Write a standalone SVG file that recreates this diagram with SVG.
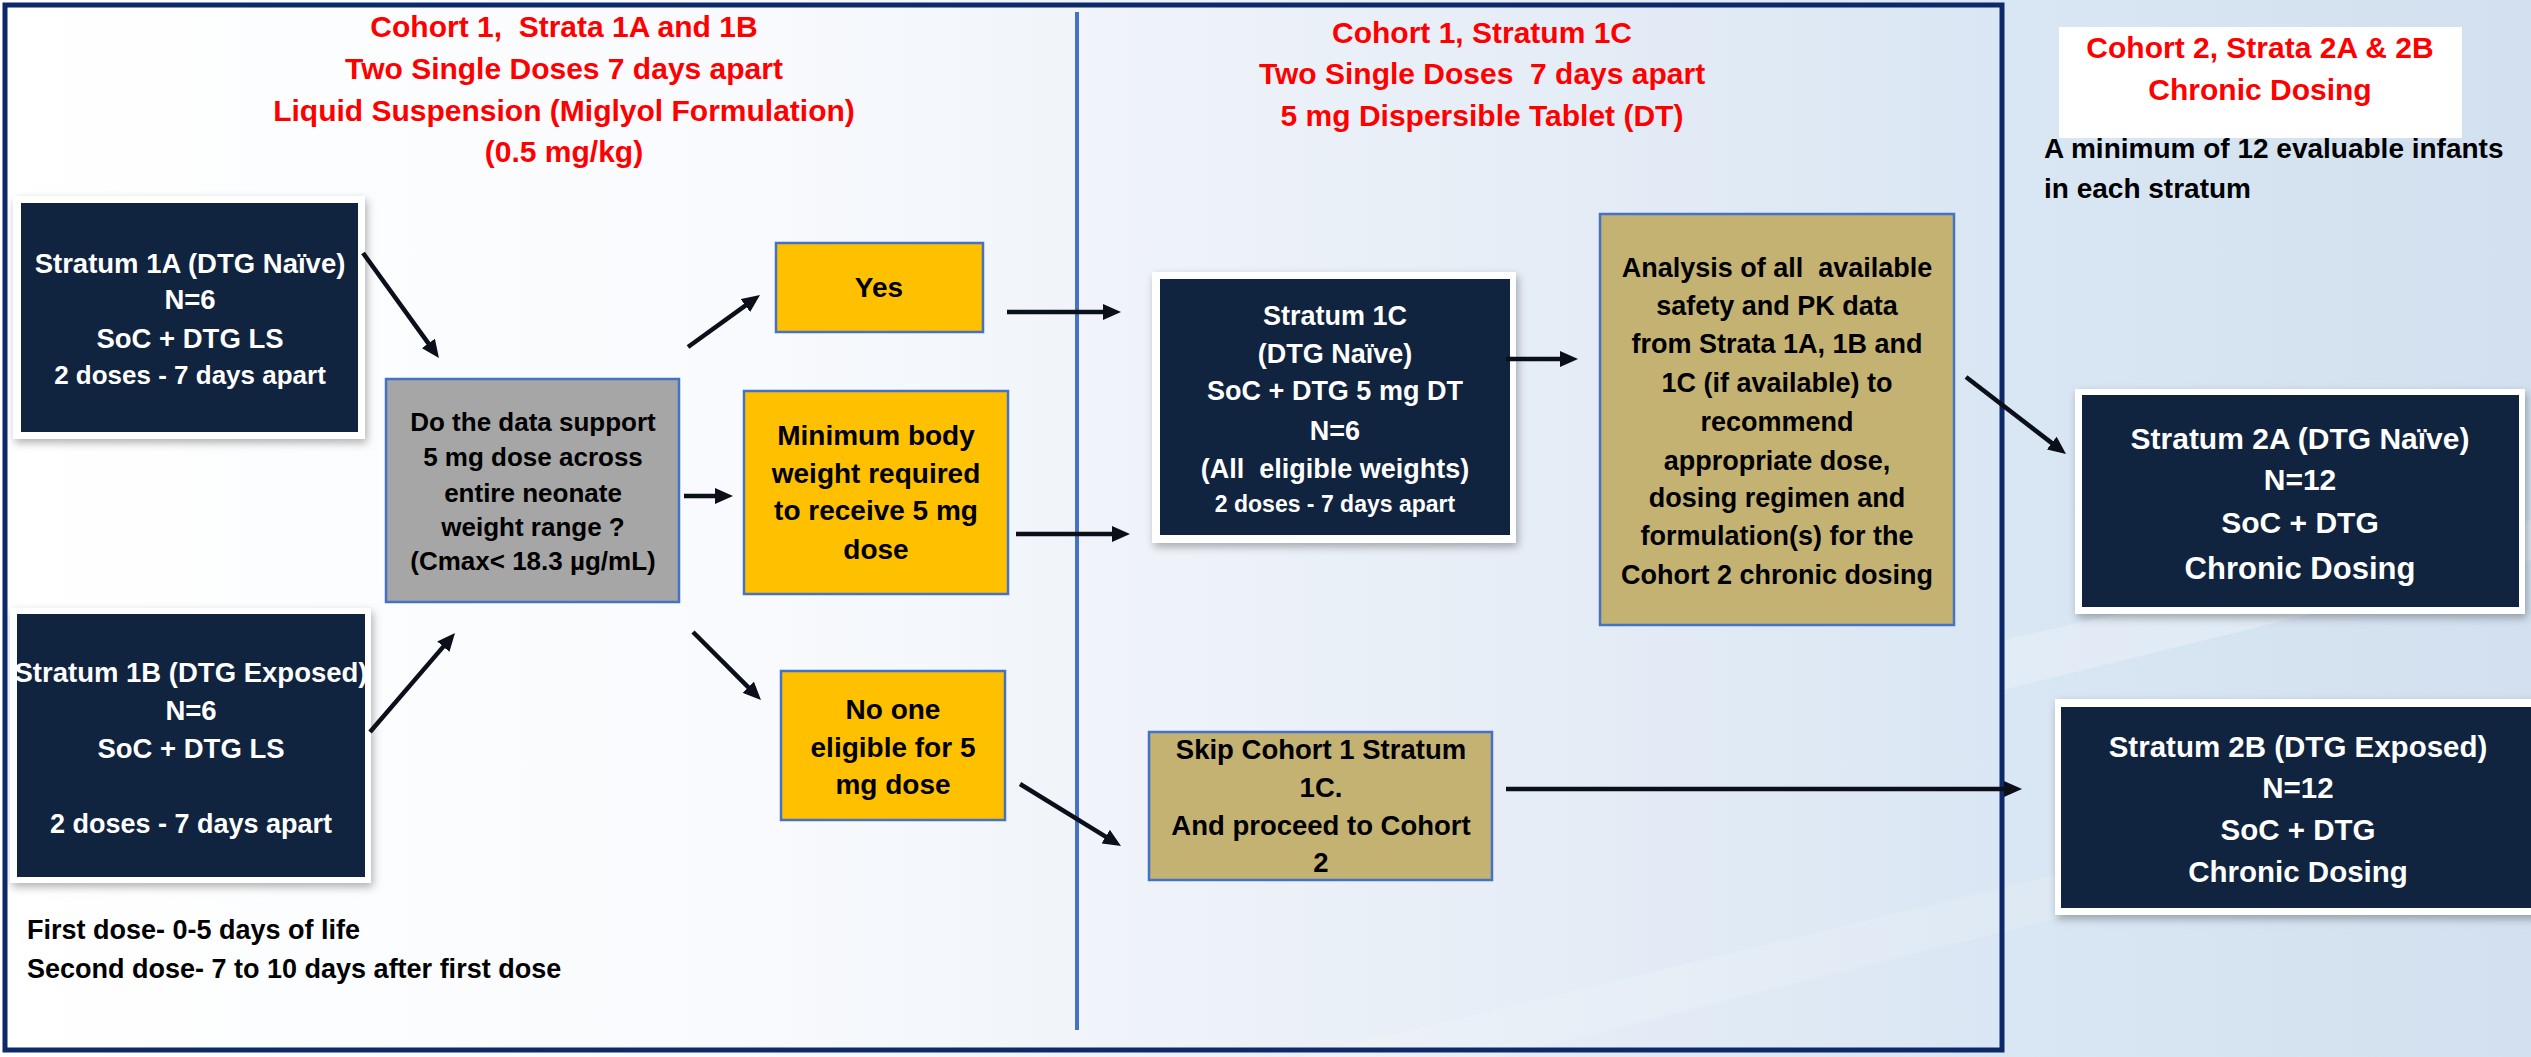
<svg xmlns="http://www.w3.org/2000/svg" width="2531" height="1057" viewBox="0 0 2531 1057">
<defs>
<linearGradient id="bg" x1="0" y1="0" x2="1" y2="0">
<stop offset="0" stop-color="#ffffff"/>
<stop offset="0.3" stop-color="#f8fafd"/>
<stop offset="0.55" stop-color="#e9eff7"/>
<stop offset="0.8" stop-color="#d9e6f3"/>
<stop offset="1" stop-color="#d2e0ef"/>
</linearGradient>
<filter id="sh" x="-10%" y="-10%" width="120%" height="130%">
<feDropShadow dx="2" dy="4" stdDeviation="4" flood-color="#000" flood-opacity="0.3"/>
</filter>
<marker id="ah" viewBox="0 0 18 16" refX="8" refY="8" markerWidth="18" markerHeight="16" markerUnits="userSpaceOnUse" orient="auto">
<path d="M0,0 L18,8 L0,16 z" fill="#0a0f1a"/>
</marker>
<style>
.t{font-family:"Liberation Sans",Arial,sans-serif;font-weight:700;white-space:pre}
.red{fill:#ff0000;font-size:30px;text-anchor:middle}
.w{fill:#ffffff;text-anchor:middle}
.k{fill:#000000;text-anchor:middle}
.frame{fill:#ffffff;filter:url(#sh)}
.dark{fill:#10233f}
.gold{fill:#ffc000;stroke:#4472c4;stroke-width:2.5}
.tan{fill:#c4b273;stroke:#4472c4;stroke-width:2.5}
.gray{fill:#a6a6a6;stroke:#4472c4;stroke-width:2.5}
.arr{stroke:#0a0f1a;stroke-width:4.5;fill:none;marker-end:url(#ah)}
</style>
</defs>
<rect x="0" y="0" width="2531" height="1057" fill="url(#bg)"/>
<path d="M2003,640 L2531,520 L2531,560 L2003,690 z" fill="#ffffff" opacity="0.25"/>
<path d="M1300,1057 L2531,760 L2531,800 L1500,1057 z" fill="#ffffff" opacity="0.15"/>
<rect x="5" y="5" width="1997" height="1045" fill="none" stroke="#0c2a6a" stroke-width="5"/>
<line x1="1077" y1="12" x2="1077" y2="1030" stroke="#4472c4" stroke-width="4"/>

<g id="title1">
<text class="t red" x="564" y="37">Cohort 1,  Strata 1A and 1B</text>
<text class="t red" x="564" y="79">Two Single Doses 7 days apart</text>
<text class="t red" x="564" y="121">Liquid Suspension (Miglyol Formulation)</text>
<text class="t red" x="564" y="162">(0.5 mg/kg)</text>
</g>
<g id="title2">
<text class="t red" x="1482" y="43">Cohort 1, Stratum 1C</text>
<text class="t red" x="1482" y="84">Two Single Doses  7 days apart</text>
<text class="t red" x="1482" y="126">5 mg Dispersible Tablet (DT)</text>
</g>
<g id="title3">
<rect x="2059" y="27" width="403" height="111" fill="#ffffff"/>
<text class="t red" x="2260" y="58">Cohort 2, Strata 2A &amp; 2B</text>
<text class="t red" x="2260" y="100">Chronic Dosing</text>
</g>
<g id="note-cohort2">
<text class="t" x="2044" y="158" font-size="28" fill="#000">A minimum of 12 evaluable infants</text>
<text class="t" x="2044" y="198" font-size="28" fill="#000">in each stratum</text>
</g>
<g id="note-doses">
<text class="t" x="27" y="939" font-size="27" fill="#000">First dose- 0-5 days of life</text>
<text class="t" x="27" y="978" font-size="27" fill="#000">Second dose- 7 to 10 days after first dose</text>
</g>

<g id="stratum1A">
<rect class="frame" x="13" y="196" width="352" height="243"/>
<rect class="dark" x="21" y="203" width="337" height="229"/>
<text class="t w" x="190" y="273" font-size="27.5">Stratum 1A (DTG Naïve)</text>
<text class="t w" x="190" y="309" font-size="27.5">N=6</text>
<text class="t w" x="190" y="348" font-size="27.5">SoC + DTG LS</text>
<text class="t w" x="190" y="384" font-size="26">2 doses - 7 days apart</text>
</g>
<g id="stratum1B">
<rect class="frame" x="10" y="608" width="361" height="275"/>
<rect class="dark" x="17" y="614" width="348" height="263"/>
<text class="t w" x="191" y="682" font-size="27.5">Stratum 1B (DTG Exposed)</text>
<text class="t w" x="191" y="720" font-size="27.5">N=6</text>
<text class="t w" x="191" y="758" font-size="27.5">SoC + DTG LS</text>
<text class="t w" x="191" y="833" font-size="27">2 doses - 7 days apart</text>
</g>
<g id="decision">
<rect class="gray" x="386" y="379" width="293" height="223"/>
<text class="t k" x="533" y="431" font-size="26">Do the data support</text>
<text class="t k" x="533" y="466" font-size="26">5 mg dose across</text>
<text class="t k" x="533" y="502" font-size="26">entire neonate</text>
<text class="t k" x="533" y="536" font-size="26">weight range ?</text>
<text class="t k" x="533" y="570" font-size="26">(Cmax&lt; 18.3 µg/mL)</text>
</g>
<g id="yes">
<rect class="gold" x="776" y="243" width="207" height="89"/>
<text class="t k" x="879" y="297" font-size="28">Yes</text>
</g>
<g id="minweight">
<rect class="gold" x="744" y="391" width="264" height="203"/>
<text class="t k" x="876" y="445" font-size="28">Minimum body</text>
<text class="t k" x="876" y="483" font-size="28">weight required</text>
<text class="t k" x="876" y="520" font-size="28">to receive 5 mg</text>
<text class="t k" x="876" y="559" font-size="28">dose</text>
</g>
<g id="noone">
<rect class="gold" x="781" y="671" width="224" height="149"/>
<text class="t k" x="893" y="719" font-size="28">No one</text>
<text class="t k" x="893" y="757" font-size="28">eligible for 5</text>
<text class="t k" x="893" y="794" font-size="28">mg dose</text>
</g>
<g id="stratum1C">
<rect class="frame" x="1152" y="272" width="364" height="271"/>
<rect class="dark" x="1160" y="279" width="350" height="256"/>
<text class="t w" x="1335" y="325" font-size="27">Stratum 1C</text>
<text class="t w" x="1335" y="363" font-size="27">(DTG Naïve)</text>
<text class="t w" x="1335" y="400" font-size="27">SoC + DTG 5 mg DT</text>
<text class="t w" x="1335" y="440" font-size="27">N=6</text>
<text class="t w" x="1335" y="478" font-size="27">(All  eligible weights)</text>
<text class="t w" x="1335" y="512" font-size="23">2 doses - 7 days apart</text>
</g>
<g id="analysis">
<rect class="tan" x="1600" y="214" width="354" height="411"/>
<text class="t k" x="1777" y="277" font-size="27">Analysis of all  available</text>
<text class="t k" x="1777" y="315" font-size="27">safety and PK data</text>
<text class="t k" x="1777" y="353" font-size="27">from Strata 1A, 1B and</text>
<text class="t k" x="1777" y="392" font-size="27">1C (if available) to</text>
<text class="t k" x="1777" y="431" font-size="27">recommend</text>
<text class="t k" x="1777" y="470" font-size="27">appropriate dose,</text>
<text class="t k" x="1777" y="507" font-size="27">dosing regimen and</text>
<text class="t k" x="1777" y="545" font-size="27">formulation(s) for the</text>
<text class="t k" x="1777" y="584" font-size="27">Cohort 2 chronic dosing</text>
</g>
<g id="skip">
<rect class="tan" x="1149" y="732" width="343" height="148"/>
<text class="t k" x="1321" y="759" font-size="27.5">Skip Cohort 1 Stratum</text>
<text class="t k" x="1321" y="797" font-size="27.5">1C.</text>
<text class="t k" x="1321" y="835" font-size="27.5">And proceed to Cohort</text>
<text class="t k" x="1321" y="872" font-size="27.5">2</text>
</g>
<g id="stratum2A">
<rect class="frame" x="2075" y="389" width="450" height="225"/>
<rect class="dark" x="2082" y="395" width="437" height="212"/>
<text class="t w" x="2300" y="449" font-size="30">Stratum 2A (DTG Naïve)</text>
<text class="t w" x="2300" y="490" font-size="30">N=12</text>
<text class="t w" x="2300" y="533" font-size="30">SoC + DTG</text>
<text class="t w" x="2300" y="579" font-size="31">Chronic Dosing</text>
</g>
<g id="stratum2B">
<rect class="frame" x="2055" y="699" width="490" height="216"/>
<rect class="dark" x="2061" y="707" width="480" height="201"/>
<text class="t w" x="2298" y="757" font-size="29.5">Stratum 2B (DTG Exposed)</text>
<text class="t w" x="2298" y="798" font-size="29.5">N=12</text>
<text class="t w" x="2298" y="840" font-size="29.5">SoC + DTG</text>
<text class="t w" x="2298" y="882" font-size="29.5">Chronic Dosing</text>
</g>

<g id="connectors">
<line class="arr" x1="363" y1="253" x2="433.1" y2="349.9"/>
<line class="arr" x1="370" y1="732" x2="448.5" y2="640.6"/>
<line class="arr" x1="688" y1="347" x2="751.9" y2="300.9"/>
<line class="arr" x1="684" y1="496" x2="723" y2="496"/>
<line class="arr" x1="693" y1="632" x2="753.9" y2="692.9"/>
<line class="arr" x1="1007" y1="312" x2="1111" y2="312"/>
<line class="arr" x1="1016" y1="534" x2="1120" y2="534"/>
<line class="arr" x1="1020" y1="784" x2="1112.5" y2="840.8"/>
<line class="arr" x1="1506" y1="359" x2="1568" y2="359"/>
<line class="arr" x1="1966" y1="377" x2="2058.1" y2="447.9"/>
<line class="arr" x1="1506" y1="789" x2="2012" y2="789"/>
</g>
</svg>
